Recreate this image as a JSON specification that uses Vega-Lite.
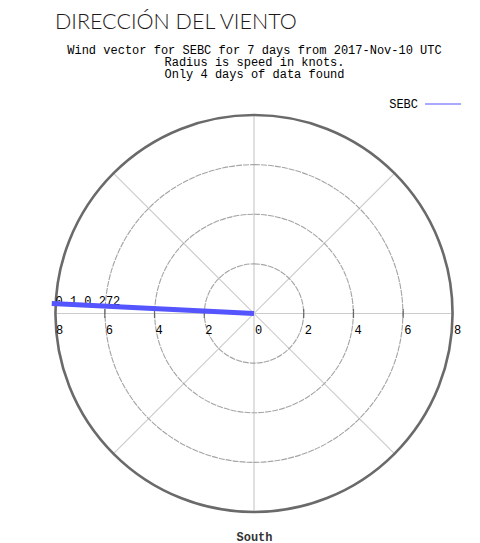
{
  "$schema": "https://vega.github.io/schema/vega-lite/v6.json",
  "autosize": {"type": "none"},
  "padding": {"left": 55, "top": 115, "right": 27, "bottom": 31},
  "width": 398,
  "height": 397,
  "background": "white",
  "title": {
    "text": "DIRECCIÓN DEL VIENTO",
    "anchor": "start",
    "frame": "group",
    "font": "Lato",
    "fontSize": 21.5,
    "fontWeight": 300,
    "color": "#1e1818",
    "offset": 10
  },
  "config": {
    "view": {"stroke": null},
    "axis": {"labels": false, "ticks": false, "domain": false, "grid": false}
  },
  "datasets": {
    "spokes": [
      {"x": -8, "y": 0, "x2": 8, "y2": 0},
      {"x": 0, "y": -8, "x2": 0, "y2": 8},
      {"x": -5.657, "y": -5.657, "x2": 5.657, "y2": 5.657},
      {"x": -5.657, "y": 5.657, "x2": 5.657, "y2": -5.657}
    ],
    "rings": [{"r": 2}, {"r": 4}, {"r": 6}],
    "outer": [{"r": 8}],
    "ticks": [{"v": -6}, {"v": -4}, {"v": -2}, {"v": 2}, {"v": 4}, {"v": 6}],
    "ticklabels": [
      {"v": -8, "t": "8"}, {"v": -6, "t": "6"}, {"v": -4, "t": "4"}, {"v": -2, "t": "2"},
      {"v": 0, "t": "0"}, {"v": 2, "t": "2"}, {"v": 4, "t": "4"}, {"v": 6, "t": "6"}, {"v": 8, "t": "8"}
    ],
    "wind": [
      {"station": "SEBC", "dir": 272, "x": 0, "y": 0, "x2": -8.13, "y2": 0.4, "lx": -7.98, "ly": 0.36, "label": "0 1 0 272"}
    ]
  },
  "resolve": {"axis": {"x": "independent"}},
  "layer": [
    {
      "data": {"name": "spokes"},
      "mark": {"type": "rule", "stroke": "#cccccc", "strokeWidth": 1.2},
      "encoding": {
        "x": {
          "field": "x", "type": "quantitative",
          "scale": {"domain": [-8, 8], "nice": false, "zero": false},
          "axis": {
            "orient": "top",
            "title": ["Wind vector for SEBC for 7 days from 2017-Nov-10 UTC", "Radius is speed in knots.", "Only 4 days of data found"],
            "titleFont": "Liberation Mono",
            "titleFontSize": 12,
            "titleFontWeight": "normal",
            "titleLineHeight": 12,
            "titleColor": "#000000",
            "titlePadding": 35
          }
        },
        "y": {
          "field": "y", "type": "quantitative",
          "scale": {"domain": [-8, 8], "nice": false, "zero": false},
          "axis": {
            "title": "West",
            "titleFont": "Liberation Mono",
            "titleFontSize": 12,
            "titleFontWeight": "bold",
            "titleColor": "#333333",
            "titlePadding": 27
          }
        },
        "x2": {"field": "x2"},
        "y2": {"field": "y2"}
      }
    },
    {
      "data": {"name": "rings"},
      "mark": {"type": "arc", "theta": 0, "theta2": 6.2832, "filled": false, "stroke": "#a4a4a4", "strokeWidth": 1.1, "strokeDash": [6, 1]},
      "encoding": {
        "radius": {"field": "r", "type": "quantitative", "stack": null, "scale": {"type": "linear", "domain": [0, 8], "range": [0, 198.5], "zero": true}}
      }
    },
    {
      "data": {"name": "outer"},
      "mark": {"type": "arc", "theta": 0, "theta2": 6.2832, "filled": false, "stroke": "#6a6a6a", "strokeWidth": 2.6},
      "encoding": {
        "radius": {"field": "r", "type": "quantitative", "stack": null, "scale": {"type": "linear", "domain": [0, 8], "range": [0, 198.5], "zero": true}}
      }
    },
    {
      "data": {"name": "ticks"},
      "mark": {"type": "tick", "orient": "vertical", "size": 9, "thickness": 1.2, "color": "#444444"},
      "encoding": {
        "x": {"field": "v", "type": "quantitative", "axis": {"orient": "bottom", "title": "South", "titleFont": "Liberation Mono", "titleFontSize": 12, "titleFontWeight": "bold", "titleColor": "#333333", "titlePadding": 19}},
        "y": {"datum": 0, "type": "quantitative", "axis": null}
      }
    },
    {
      "data": {"name": "ticklabels"},
      "mark": {"type": "text", "align": "left", "baseline": "middle", "dx": 1, "font": "Liberation Mono", "fontSize": 12, "color": "#000000"},
      "encoding": {
        "x": {"field": "v", "type": "quantitative", "axis": null},
        "y": {"datum": -0.65, "type": "quantitative", "axis": null},
        "text": {"field": "t"}
      }
    },
    {
      "data": {"name": "wind"},
      "mark": {"type": "text", "align": "left", "baseline": "alphabetic", "font": "Liberation Mono", "fontSize": 12, "color": "#000000"},
      "encoding": {
        "x": {"field": "lx", "type": "quantitative", "axis": null},
        "y": {"field": "ly", "type": "quantitative", "axis": null},
        "text": {"field": "label"}
      }
    },
    {
      "data": {"name": "wind"},
      "mark": {"type": "rule", "strokeWidth": 5},
      "encoding": {
        "x": {"field": "x", "type": "quantitative", "axis": null},
        "y": {"field": "y", "type": "quantitative", "axis": null},
        "x2": {"field": "x2"},
        "y2": {"field": "y2"},
        "color": {
          "field": "station", "type": "nominal",
          "scale": {"domain": ["SEBC"], "range": ["#5555ff"]},
          "legend": {
            "orient": "none",
            "legendX": 369,
            "legendY": -30,
            "title": null,
            "padding": 0,
            "symbolType": "stroke",
            "symbolSize": 1296,
            "symbolStrokeWidth": 1.2,
            "labelAlign": "right",
            "labelOffset": -44,
            "labelFont": "Liberation Mono",
            "labelFontSize": 12,
            "labelColor": "#000000"
          }
        }
      }
    }
  ]
}
